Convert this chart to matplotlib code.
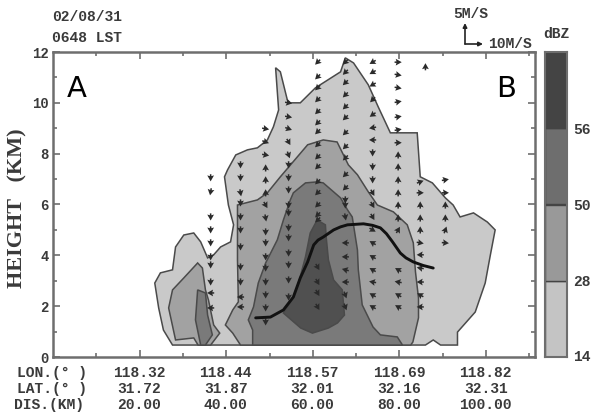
import numpy as np
import matplotlib
matplotlib.use("Agg")
import matplotlib.pyplot as plt
from matplotlib.patches import FancyArrowPatch

# Reflectivity contours: distance along section (km), height (km)
outer_x = [27.6,25.5,24.4,23.5,24.8,27.6,28.3,30.2,32.5,34.1,35.7,37.1,38.7,41.0,41.7,40.5,39.6,40.3,42.2,44.9,47.2,49.5,50.9,52.1,51.4,52.5,54.1,54.8,57.1,60.6,66.4,67.5,69.4,72.8,75.1,77.9,84.1,84.8,87.6,90.6,92.4,94.0,97.1,100.3,102.1,101.0,99.8,97.5,93.4,93.4,89.5,87.8,86.0]
outer_y = [0.47,1.06,1.93,2.91,3.31,3.43,4.33,4.80,4.88,4.53,3.90,4.02,4.33,4.53,5.20,5.98,7.09,7.36,7.95,8.15,8.23,8.54,9.06,9.72,11.38,11.22,10.12,10.0,10.0,10.59,11.22,11.77,11.57,10.71,9.84,8.82,8.82,7.09,6.85,6.26,5.98,5.51,5.67,5.31,5.0,4.02,2.91,1.77,0.98,0.47,0.47,0.67,0.47]

left_mid_x = [28.3,26.7,27.6,30.2,33.4,34.5,35.2,35.9,37.1,38.5,36.4,33.5,32.5]
left_mid_y = [0.67,1.93,2.64,3.11,3.70,3.50,2.64,2.24,1.26,0.94,0.47,0.47,0.75]
left_dark_x = [33.4,35.2,35.7,36.8,35.2,34.1,32.9]
left_dark_y = [2.64,2.52,1.65,0.87,0.47,0.47,1.46]

mid_x = [43.3,41.5,39.8,41.5,42.8,42.6,42.6,47.2,49.5,52.5,56.4,58.8,62.4,65.6,68.2,70.3,72.8,74.9,78.6,81.8,83.2,83.7,84.4,84.4,83.1,82.6]
mid_y = [0.47,0.94,1.26,1.85,2.17,3.82,5.98,6.18,6.46,7.09,7.87,8.35,8.54,8.46,7.56,7.17,6.5,5.98,5.71,5.2,4.49,3.35,2.32,1.54,0.59,0.47]

dark_x = [46.1,46.1,45.1,46.3,47.4,49.1,51.8,53.2,54.8,55.5,58.3,61.0,62.4,66.4,68.0,69.1,70.3,70.5,71.4,73.9,75.6,79.5,80.7]
dark_y = [0.47,1.06,1.46,1.97,2.91,3.70,4.61,5.39,6.18,6.46,6.85,6.89,6.85,6.26,5.79,5.51,4.21,3.43,2.05,1.18,0.87,0.79,0.47]

core_x = [61.0,62.9,63.1,63.6,64.8,66.8,67.3,65.7,63.6,59.9,57.2,53.2,55.5,56.7,58.3,59.4]
core_y = [5.39,5.20,4.69,3.82,3.03,2.64,1.65,1.34,1.14,0.94,1.14,1.73,2.36,2.91,3.94,4.88]

curve_x = [46.8,50.2,53.2,55.5,57.1,58.8,60.2,61.2,62.4,64.8,66.4,68.0,71.7,73.8,75.6,77.0,78.4,80.2,81.5,83.2,85.5,87.8]
curve_y = [1.54,1.57,1.85,2.36,3.11,3.74,4.41,4.60,4.72,5.0,5.12,5.2,5.24,5.18,5.08,4.85,4.53,4.09,3.90,3.74,3.60,3.5]

# Wind glyph columns: distance, heights, direction (degrees)
wind_columns = [
 (36.4,[7.05,6.5,5.51,5.0,4.49,3.94,3.62,2.95,2.52,1.93],[-90,-100,-90,-90,-90,-90,-90,-90,180,180]),
 (43.3,[7.56,7.05,6.46,6.06,5.51,5.0,4.33,3.54,2.95,2.36,1.97],[-90,-90,-80,-90,-90,-90,-90,-90,-90,180,180]),
 (49.1,[8.98,8.46,7.95,7.44,6.97,6.46,5.98,5.47,4.92,4.49,3.94,3.5,2.95,2.44,1.93,1.38],[-10,-20,-10,90,90,90,-60,-80,-90,-90,-90,-90,-90,-90,-90,-90]),
 (54.4,[10.0,9.45,8.98,8.46,7.95,7.56,7.05,6.57,5.98,5.67,5.08,4.69,4.09,3.62,3.03,2.36],[-10,-10,-20,-60,-70,-90,-90,-90,-90,-90,-90,-90,-90,-90,-90,-90]),
 (61.1,[11.6,11.02,10.59,10.12,9.65,9.21,8.86,8.35,7.87,7.48,6.89,6.46,5.98,5.59,5.39,3.54,2.95,2.52,1.97],[225,225,225,225,225,225,225,225,225,225,225,225,225,225,225,-60,-60,-60,-60]),
 (67.5,[11.6,11.2,10.79,10.31,9.84,9.41,8.82,8.27,7.83,7.17,6.65,6.18,5.98,5.51,4.49,3.94,3.43,2.95,2.44,1.97],[225,225,225,225,225,225,225,225,225,225,225,-90,-90,-80,180,180,165,180,-70,-70]),
 (73.8,[11.6,11.2,10.71,10.12,9.53,9.02,8.54,8.03,7.48,6.97,6.46,5.98,5.51,5.0,4.49,3.94,3.43,2.95,2.44,1.97],[210,210,210,225,215,190,180,-90,-90,-90,-60,-60,-60,-30,150,150,150,170,150,150]),
 (79.7,[11.6,11.1,10.59,10.04,9.45,8.94,8.43,7.95,7.48,6.97,6.46,5.98,5.47,5.0,3.43,2.95,2.44,1.97],[0,-10,-10,10,10,10,0,90,90,90,90,90,90,60,150,170,150,150]),
 (84.8,[6.89,6.46,5.98,5.47,5.0,4.49,4.02,3.5,2.95,2.44,1.97],[20,0,90,90,90,-10,180,170,180,150,180]),
 (90.6,[6.97,6.46,5.98,5.47,5.0,4.49],[10,0,90,90,70,-5]),
 (86.0,[11.42],[90]),
]

lon_labels = ["118.32","118.44","118.57","118.69","118.82"]
lat_labels = ["31.72","31.87","32.01","32.16","32.31"]
dis_labels = ["20.00","40.00","60.00","80.00","100.00"]
dist_ticks = [20,40,60,80,100]
height_ticks = [0,2,4,6,8,10,12]
bar_labels = ["14","28","50","56"]
bar_heights = [1,1,1,1]

C1,C2,C3,C4 = "#c9c9c9","#a2a2a2","#7a7a7a","#505050"
MONO = "Liberation Mono"
TXT = "#3a3a3a"; FR = "#6e6e6e"

fig = plt.figure(figsize=(5.91,4.15),dpi=100)
ax = fig.add_axes([53/591,58/415,482/591,305/415])
ax.set_xlim(0,111.3); ax.set_ylim(0,12)

for xs,ys,c in [(outer_x,outer_y,C1),(left_mid_x,left_mid_y,C2),(left_dark_x,left_dark_y,C3),(mid_x,mid_y,C2),(dark_x,dark_y,C3),(core_x,core_y,C4)]:
    ax.fill(xs,ys,facecolor=c,edgecolor="#4a4a4a",lw=1.1,zorder=2)

for x,hs,ang in wind_columns:
    a = np.radians(ang)
    ax.quiver(np.full(len(hs),x),hs,np.cos(a),np.sin(a),angles="uv",units="dots",scale_units="dots",
              scale=0.14,width=1.5,headwidth=4.5,headlength=4,headaxislength=3.5,pivot="mid",color="#2a2a2a",zorder=3)
ax.plot(curve_x,curve_y,color="#111111",lw=2.1,zorder=4,solid_capstyle="round",solid_joinstyle="round")

ax.set_xticks(dist_ticks); ax.set_xticks([10,30,50,70,90,110],minor=True)
ax.set_yticks(height_ticks); ax.set_yticks(range(1,12,2),minor=True)
ax.tick_params(which="both",direction="in",top=True,right=True,color=FR,width=1.2)
ax.tick_params(which="major",length=5); ax.tick_params(which="minor",length=3)
ax.set_xticklabels([])
ax.set_yticklabels([str(v) for v in height_ticks],family=MONO,weight="bold",fontsize=10,color=TXT)
ax.tick_params(axis="y",pad=3)
for s in ax.spines.values():
    s.set_color(FR); s.set_linewidth(1.8)

ax.text(0.028,0.852,"A",transform=ax.transAxes,family="DejaVu Sans",fontsize=21,color="black",va="baseline",zorder=6)
ax.text(0.919,0.852,"B",transform=ax.transAxes,family="DejaVu Sans",fontsize=21,color="black",va="baseline",zorder=6)

def ftext(px,py,s,ha="left",size=10.5):
    fig.text(px/591,1-py/415,s,ha=ha,va="center",family=MONO,weight="bold",fontsize=size,color=TXT)

fig.text(17/591,1-208/415,"HEIGHT   (KM)",rotation=90,ha="center",va="center",family="Liberation Serif",weight="bold",fontsize=16,color=TXT)

ftext(52,17,"02/08/31"); ftext(52,38,"0648 LST")
ftext(453,14,"5M/S"); ftext(488,44,"10M/S")
ftext(543,34,"dBZ")
ftext(17,373,"LON.(\u00b0 )"); ftext(17,389,"LAT.(\u00b0 )"); ftext(14,405,"DIS.(KM)")
for d,a,b,c in zip(dist_ticks,lon_labels,lat_labels,dis_labels):
    px = 52.3+d*4.335
    ftext(px,373,a,ha="center"); ftext(px,389,b,ha="center"); ftext(px,405,c,ha="center")

# Legend arrows
for end in [(465,23),(483,44)]:
    fig.add_artist(FancyArrowPatch((465/591,1-44/415),(end[0]/591,1-end[1]/415),transform=fig.transFigure,
                                   arrowstyle="-|>",mutation_scale=6,shrinkA=0,shrinkB=0,color="#222222",lw=1.2))

# Colour bar
cax = fig.add_axes([545/591,58/415,22/591,305/415])
cax.bar([0]*4,bar_heights,bottom=[0,1,2,3],width=1,color=["#c4c4c4","#999999","#6e6e6e","#444444"],edgecolor="#444444",lw=1.0)
cax.set_xlim(-.5,.5); cax.set_ylim(0,4)
cax.set_xticks([]); cax.set_yticks([])
for s in cax.spines.values():
    s.set_color(FR); s.set_linewidth(1.5)
for py,s in zip([357,282,206,130],bar_labels):
    ftext(573,py,s)

fig.savefig("out.png",dpi=100)
